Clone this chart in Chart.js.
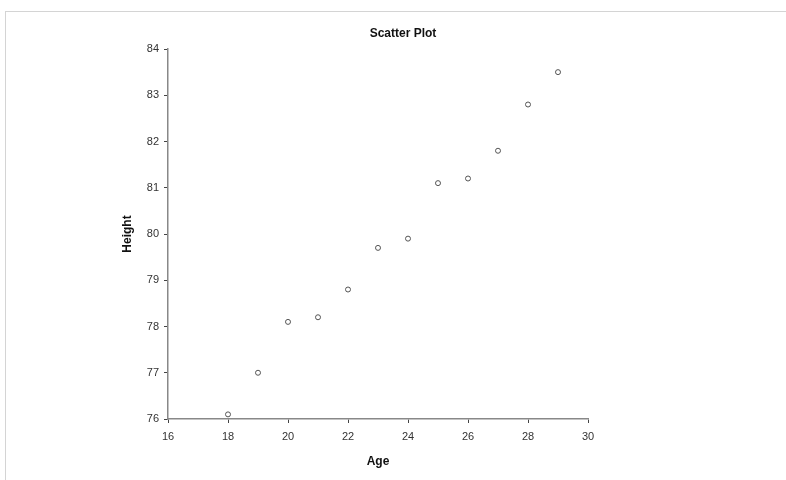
<!DOCTYPE html>
<html>
<head>
<meta charset="utf-8">
<script src="https://cdn.jsdelivr.net/npm/chart.js@4"></script>
<style>
  body { margin: 0; background: #fff; overflow: hidden; }
  #frame { position: absolute; left: 5px; top: 11px; width: 800px; height: 480px;
           border-top: 1px solid #d4d4d4; border-left: 1px solid #d4d4d4; }
  #scatter { position: absolute; left: 0; top: 0; }
</style>
</head>
<body>
<div id="frame"></div>
<canvas id="scatter" width="786" height="480"></canvas>
<script>
const ages = [18, 19, 20, 21, 22, 23, 24, 25, 26, 27, 28, 29];
const heights = [76.1, 77.0, 78.1, 78.2, 78.8, 79.7, 79.9, 81.1, 81.2, 81.8, 82.8, 83.5];

const points = ages.map((a, i) => ({ x: a, y: heights[i] }));
const tickFont = { family: "Liberation Sans", size: 11 };
const boldFont = { family: "Liberation Sans", size: 12, weight: "bold" };

new Chart("scatter", {
  type: "scatter",
  data: {
    datasets: [{
      data: points,
      pointRadius: 2.5,
      pointBackgroundColor: "#fff",
      pointBorderColor: "#555",
      pointBorderWidth: 1
    }]
  },
  options: {
    responsive: false,
    animation: false,
    layout: { padding: { left: 20, right: 0, top: 11, bottom: 0 } },
    plugins: {
      legend: { display: false },
      tooltip: { enabled: false },
      title: {
        display: true,
        text: "Scatter Plot",
        color: "#111",
        font: boldFont,
        padding: { top: 15, bottom: 8.6 }
      }
    },
    scales: {
      x: {
        type: "linear",
        min: 16, max: 30,
        ticks: { stepSize: 2, color: "#333", font: tickFont, padding: 7, maxRotation: 0 },
        grid: { drawOnChartArea: false, drawTicks: true, tickLength: 4, color: "#444" },
        border: { color: "#888", width: 1.5 },
        title: { display: true, text: "Age", color: "#111", font: boldFont, padding: { top: 0, bottom: 11 } },
        afterFit: s => { s.height = 61; }
      },
      y: {
        min: 76, max: 84,
        ticks: { stepSize: 1, color: "#333", font: tickFont, padding: 5 },
        grid: { drawOnChartArea: false, drawTicks: true, tickLength: 4, color: "#444" },
        border: { color: "#888", width: 1.5 },
        title: { display: true, text: "Height", color: "#111", font: boldFont, padding: { top: 100, bottom: 0 } },
        afterFit: s => { s.width = 148; }
      },
      spare: {
        type: "linear",
        position: "right",
        ticks: { display: false },
        grid: { display: false },
        border: { display: false },
        afterFit: s => { s.width = 198; }
      }
    }
  }
});
</script>
</body>
</html>
